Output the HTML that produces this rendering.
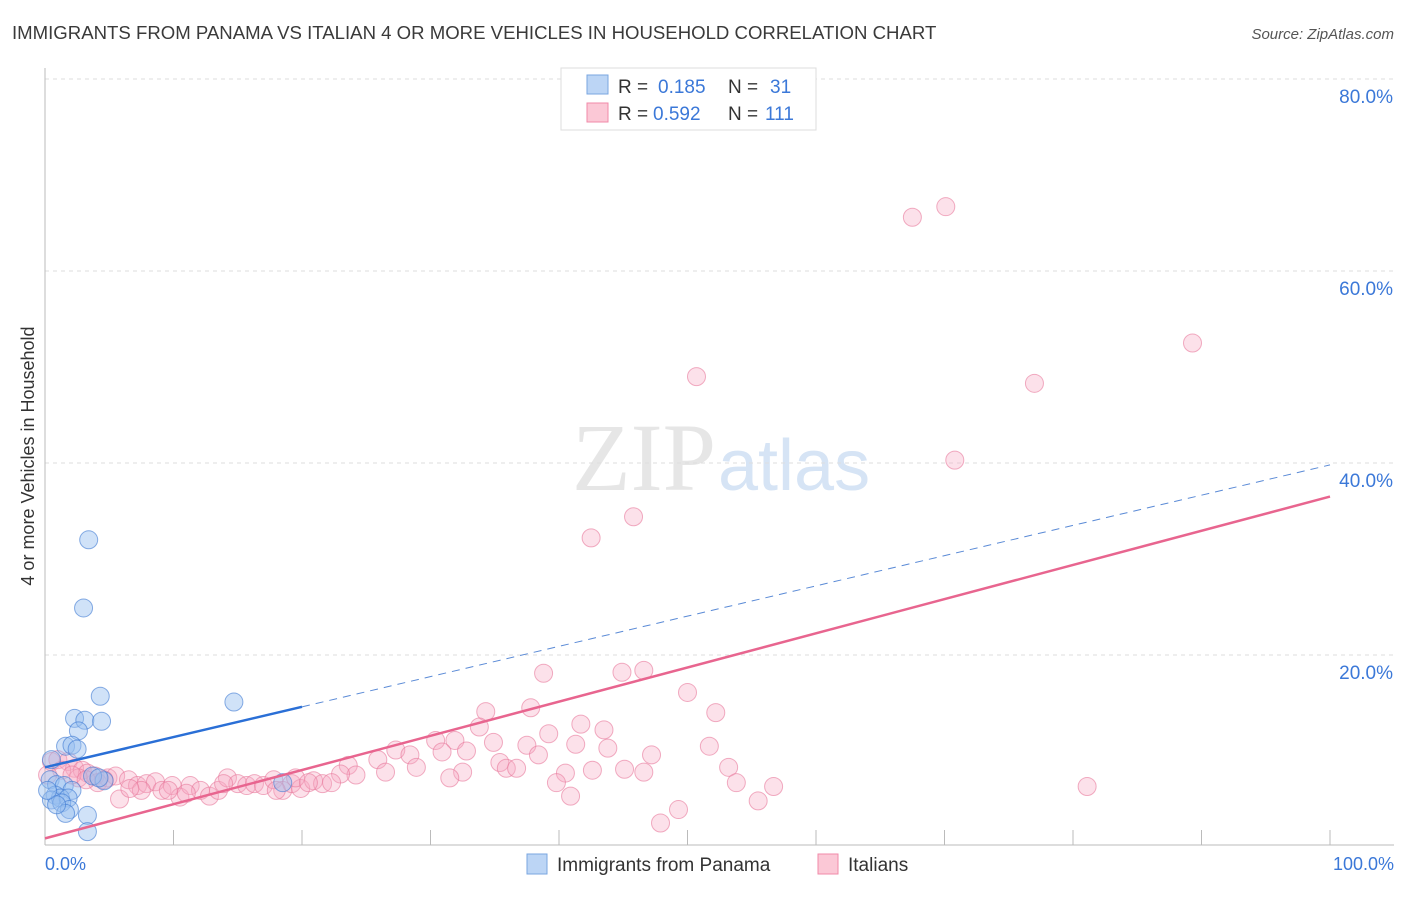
<!DOCTYPE html>
<html><head><meta charset="utf-8"><style>
body{margin:0;background:#fff;font-family:"Liberation Sans",sans-serif}
</style></head><body>
<svg width="1406" height="892" xmlns="http://www.w3.org/2000/svg" style="font-family:'Liberation Sans',sans-serif">
<text x="12" y="39" font-size="18.6" fill="#3a3a3a">IMMIGRANTS FROM PANAMA VS ITALIAN 4 OR MORE VEHICLES IN HOUSEHOLD CORRELATION CHART</text>
<text x="1394" y="39" font-size="15" fill="#555" font-style="italic" text-anchor="end">Source: ZipAtlas.com</text>
<text x="716" y="490" font-size="96" fill="#e6e6e6" text-anchor="end" font-family="Liberation Serif">ZIP</text>
<text x="718" y="490" font-size="72" fill="#d6e4f5">atlas</text>
<g id="grid"></g>
<g id="axes"></g>
<g id="marks"></g>
<text transform="translate(34,456) rotate(-90)" font-size="18" fill="#333" text-anchor="middle">4 or more Vehicles in Household</text>
<text x="45" y="870" font-size="18" fill="#3b78d8">0.0%</text>
<text x="1394" y="870" font-size="18" fill="#3b78d8" text-anchor="end">100.0%</text>
<g>
<rect x="561" y="68" width="255" height="62" fill="#fff" stroke="#ddd"/>
<rect x="587" y="75" width="21" height="19" fill="#bcd5f5" stroke="#7aa6e0"/>
<rect x="587" y="103" width="21" height="19" fill="#fbc8d6" stroke="#f08aa8"/>
<text x="618" y="93" font-size="19" fill="#333">R =</text>
<text x="658" y="93" font-size="19" fill="#3b78d8">0.185</text>
<text x="728" y="93" font-size="19" fill="#333">N =</text>
<text x="770" y="93" font-size="19" fill="#3b78d8">31</text>
<text x="618" y="120" font-size="19" fill="#333">R =</text>
<text x="653" y="120" font-size="19" fill="#3b78d8">0.592</text>
<text x="728" y="120" font-size="19" fill="#333">N =</text>
<text x="765" y="120" font-size="19" fill="#3b78d8">111</text>
</g>
<g>
<rect x="527" y="854" width="20" height="20" fill="#bcd5f5" stroke="#7aa6e0"/>
<text x="557" y="871" font-size="19" fill="#333">Immigrants from Panama</text>
<rect x="818" y="854" width="20" height="20" fill="#fbc8d6" stroke="#f08aa8"/>
<text x="848" y="871" font-size="19" fill="#333">Italians</text>
</g>
</svg>
<script>
const yTicks=[20,40,60,80];
const xTicks=[0,10,20,30,40,50,60,70,80,90,100];
const panamaX=[3.4,3.0,4.3,14.7,2.3,3.1,4.4,2.6,1.6,2.1,2.5,0.5,0.4,0.9,1.5,2.1,0.8,1.2,0.5,1.8,1.3,1.9,1.6,3.3,3.3,4.6,18.5,3.7,4.2,0.9,0.2];
const panamaY=[32.0,24.9,15.7,15.1,13.4,13.2,13.1,12.1,10.5,10.6,10.2,9.1,7.0,6.5,6.4,5.9,5.4,5.1,4.9,5.1,4.6,3.9,3.5,3.3,1.6,6.9,6.7,7.4,7.2,4.4,5.9];
const italianX=[67.5,70.1,89.3,50.7,77.0,70.8,45.8,42.5,38.8,44.9,46.6,50.0,52.2,34.3,37.8,33.8,41.7,43.5,39.2,51.7,30.4,31.9,34.9,37.5,41.3,43.8,47.2,32.8,30.9,27.3,28.4,25.9,23.6,35.4,38.4,35.9,36.7,53.2,40.5,42.6,45.1,46.6,32.5,28.9,26.5,24.2,23.0,31.5,39.8,53.8,56.7,81.1,40.9,55.5,49.3,47.9,
0.5,1.0,1.8,2.3,2.9,3.3,1.3,3.9,4.9,5.5,6.5,7.2,7.9,8.6,9.1,9.9,10.5,11.3,12.1,12.8,13.5,14.2,15.0,15.7,16.3,17.0,17.8,18.5,19.2,19.9,20.9,21.6,22.3,5.8,4.1,7.5,11.0,18.0,19.5,20.5,13.9,9.6,6.6,4.6,2.6,0.2,2.1,3.2];
const italianY=[65.6,66.7,52.5,49.0,48.3,40.3,34.4,32.2,18.1,18.2,18.4,16.1,14.0,14.1,14.5,12.5,12.8,12.2,11.8,10.5,11.1,11.1,10.9,10.6,10.7,10.3,9.6,10.0,9.9,10.1,9.6,9.1,8.5,8.8,9.6,8.2,8.2,8.3,7.7,8.0,8.1,7.8,7.8,8.3,7.8,7.5,7.6,7.2,6.7,6.7,6.3,6.3,5.3,4.8,3.9,2.5,
8.9,9.1,8.9,8.2,8.0,7.7,8.0,7.4,7.2,7.4,7.0,6.4,6.6,6.8,5.9,6.4,5.2,6.4,5.9,5.3,5.9,7.2,6.6,6.4,6.6,6.4,7.0,5.9,6.6,6.1,6.9,6.6,6.7,5.0,6.7,5.9,5.6,5.9,7.2,6.7,6.6,5.9,6.1,7.0,7.2,7.5,7.5,7.0];
const panamaFit=[8.3,39.8];
const italianFit=[0.9,36.5];
const NS="http://www.w3.org/2000/svg";
const xs=v=>45+v*12.85;
const ys=v=>847-v*9.6;
function mk(tag,attrs,parent){const e=document.createElementNS(NS,tag);for(const k in attrs)e.setAttribute(k,attrs[k]);document.getElementById(parent).appendChild(e);return e;}
yTicks.forEach(t=>{
 const l=mk('line',{x1:45,x2:1394,y1:ys(t),y2:ys(t),stroke:'#dedede','stroke-dasharray':'4,4'},'grid');
 
 
 const tx=mk('text',{x:1393,y:ys(t)+24,'font-size':19,fill:'#3b78d8','text-anchor':'end'},'grid');
 tx.textContent=t.toFixed(1)+'%';
 
 
});
const ax=mk('line',{x1:45,x2:45,y1:68,y2:845,stroke:'#bbb'},'axes');


const bx=mk('line',{x1:45,x2:1394,y1:845,y2:845,stroke:'#bbb'},'axes');


xTicks.forEach(t=>{
 const l=mk('line',{x1:xs(t),x2:xs(t),y1:830,y2:845,stroke:'#bbb'},'axes');
 
 
});
italianX.forEach((x,i)=>{
 const c=mk('circle',{cx:xs(x),cy:ys(italianY[i]),r:9,fill:'rgba(247,170,195,0.35)',stroke:'rgba(232,120,155,0.6)','stroke-width':1},'marks');
 
 
});
panamaX.forEach((x,i)=>{
 const c=mk('circle',{cx:xs(x),cy:ys(panamaY[i]),r:9,fill:'rgba(150,190,240,0.45)',stroke:'rgba(60,120,210,0.6)','stroke-width':1},'marks');
 
 
});
const pf=v=>panamaFit[0]+(panamaFit[1]-panamaFit[0])*v/100;
const l1=mk('line',{x1:xs(0),y1:ys(pf(0)),x2:xs(20),y2:ys(pf(20)),stroke:'#2a6fd6','stroke-width':2.5},'marks');


const l2=mk('line',{x1:xs(20),y1:ys(pf(20)),x2:xs(100),y2:ys(pf(100)),stroke:'#5a8ad6','stroke-width':1,'stroke-dasharray':'8,6'},'marks');


const l3=mk('line',{x1:xs(0),y1:ys(italianFit[0]),x2:xs(100),y2:ys(italianFit[1]),stroke:'#e8658f','stroke-width':2.5},'marks');


</script>
</body></html>
